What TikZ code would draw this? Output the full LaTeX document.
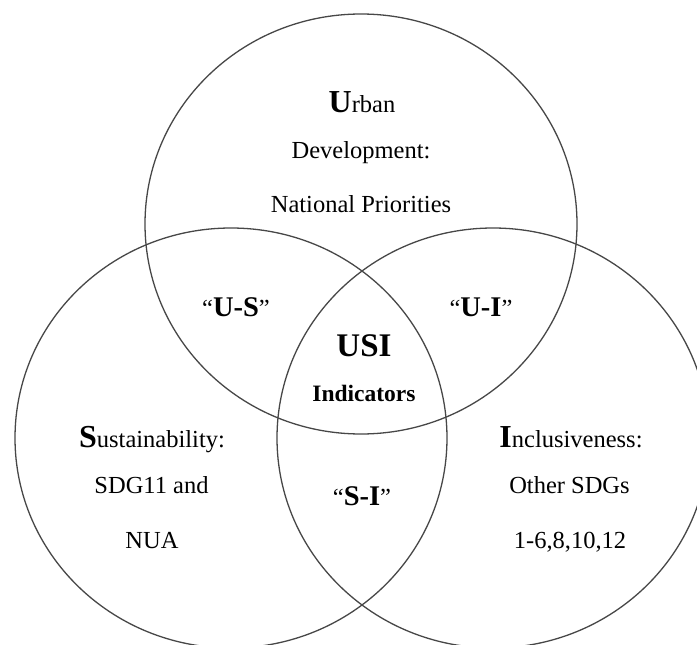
\documentclass[tikz,border=0pt]{standalone}
\usepackage{fontspec}
\setmainfont{Liberation Serif}
\tikzset{
  ring/.style={draw=black!72, line width=1.3pt},
  lbl/.style={anchor=base, inner sep=0pt, font=\fontsize{24.5}{29}\selectfont},
  big/.style={anchor=base, inner sep=0pt, font=\fontsize{33}{36}\selectfont\bfseries},
  mid/.style={anchor=base, inner sep=0pt, font=\fontsize{23.5}{27}\selectfont\bfseries}
}
\newcommand{\bigL}[1]{{\fontsize{32}{34}\selectfont\bfseries #1}}
\newcommand{\pairL}[1]{“{\fontsize{28.5}{31}\selectfont\bfseries #1}”}
\begin{document}
\begin{tikzpicture}[x=1pt,y=-1pt]
\path[use as bounding box, clip] (0,0) rectangle (697,645);
\fill[white] (0,0) rectangle (697,645);
\coordinate (cU) at (361,224);
\coordinate (cS) at (231,438);
\coordinate (cI) at (493,438);
\draw[ring] (cU) ellipse [x radius=216pt, y radius=210pt];
\draw[ring] (cS) ellipse [x radius=216pt, y radius=210pt];
\draw[ring] (cI) ellipse [x radius=216pt, y radius=210pt];
% Urban
\node[lbl] (u1) at (362,112) {\bigL{U}rban};
\node[lbl] (u2) at (361,158.5) {Development:};
\node[lbl] (u3) at (361,212.5) {National Priorities};
% pairs
\node[lbl] (us) at (236,316) {\pairL{U-S}};
\node[lbl] (ui) at (481,316) {\pairL{U-I}};
\node[lbl] (si) at (362,505) {\pairL{S-I}};
% centre
\node[big] (usi) at (364,356) {USI};
\node[mid] (ind) at (364,401) {Indicators};
% Sustainability
\node[lbl] (s1) at (152,447) {\bigL{S}ustainability:};
\node[lbl] (s2) at (151.5,493) {SDG11 and};
\node[lbl] (s3) at (152,548) {NUA};
% Inclusiveness
\node[lbl] (i1) at (571,447) {\bigL{I}nclusiveness:};
\node[lbl] (i2) at (569.5,493) {Other SDGs};
\node[lbl] (i3) at (570,548) {1-6,8,10,12};
\end{tikzpicture}
\end{document}
